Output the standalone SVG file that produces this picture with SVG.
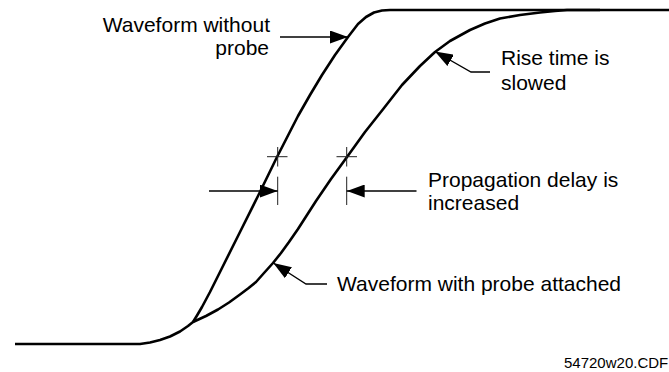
<svg xmlns="http://www.w3.org/2000/svg" width="669" height="372" viewBox="0 0 669 372">
  <style>
    .wave { fill: none; stroke: #000; stroke-width: 2.6; stroke-linejoin: round; stroke-linecap: butt; }
    .lead { fill: none; stroke: #000; stroke-width: 1.3; stroke-linejoin: miter; }
    .tick { fill: none; stroke: #222; stroke-width: 1; }
    .lbl { font-family: "Liberation Sans", Arial, Helvetica, sans-serif; font-size: 21px; fill: #000; }
    .file { font-family: "Liberation Sans", Arial, Helvetica, sans-serif; font-size: 15px; fill: #000; }
  </style>
  <defs>
    <marker id="head" markerUnits="userSpaceOnUse" viewBox="0 0 18 13" refX="18" refY="6.5" markerWidth="18" markerHeight="13" orient="auto">
      <path d="M0,0 L18,6.5 L0,13 Z" fill="#000"/>
    </marker>
  </defs>

  <rect width="669" height="372" fill="#fff"/>

  <g id="waveforms">
    <polyline id="wave-without-probe" class="wave" points="15,344 140,344 150,342.5 160,340 170,336.5 180,331.5 188,326 193,322 197,315.5 202,307 210,292 222,268 240,232 258,196 277,157 298,116 310,95 322,75 335,55 348,37 358,24 366,17 374,12.5 382,10.5 390,10 669,10"/>
    <polyline id="wave-with-probe" class="wave" points="193,322 206,316 218,309.5 229,302.5 240,294.5 248,288.5 256,282 264,273 273,263 281,253 289,242 298,229 307,215 316,201 331,179 347,157 365,132 384,108 402,85 420,66 435,52 450,41 470,30 485,23.5 500,18.5 520,15 540,12.5 555,11 567,10 600,10"/>
  </g>

  <g id="measure-marks">
    <path class="tick" d="M267,156.7 H287.5 M277.7,147 V166.5 M277.7,176.7 V205"/>
    <path class="tick" d="M336.5,156.7 H357 M346.7,147 V166.5 M346.7,176.7 V205"/>
  </g>

  <g id="connectors">
    <polyline class="lead" points="280,37 348,37" marker-end="url(#head)"/>
    <polyline class="lead" points="490,72 471,72 435,51.5" marker-end="url(#head)"/>
    <polyline class="lead" points="209,191 277.7,191" marker-end="url(#head)"/>
    <polyline class="lead" points="416.5,191 346.7,191" marker-end="url(#head)"/>
    <polyline class="lead" points="327,284 306,284 273.3,263" marker-end="url(#head)"/>
  </g>

  <g id="label-without-probe">
    <text class="lbl" x="270" y="32" text-anchor="end">Waveform without</text>
    <text class="lbl" x="269" y="55" text-anchor="end">probe</text>
  </g>
  <g id="label-rise-time">
    <text class="lbl" x="501" y="65">Rise time is</text>
    <text class="lbl" x="501" y="90">slowed</text>
  </g>
  <g id="label-propagation">
    <text class="lbl" x="428" y="187">Propagation delay is</text>
    <text class="lbl" x="428" y="209.5">increased</text>
  </g>
  <g id="label-with-probe">
    <text class="lbl" x="337" y="291">Waveform with probe attached</text>
  </g>
  <g id="file-name">
    <text class="file" x="564" y="368">54720w20.CDF</text>
  </g>
</svg>
